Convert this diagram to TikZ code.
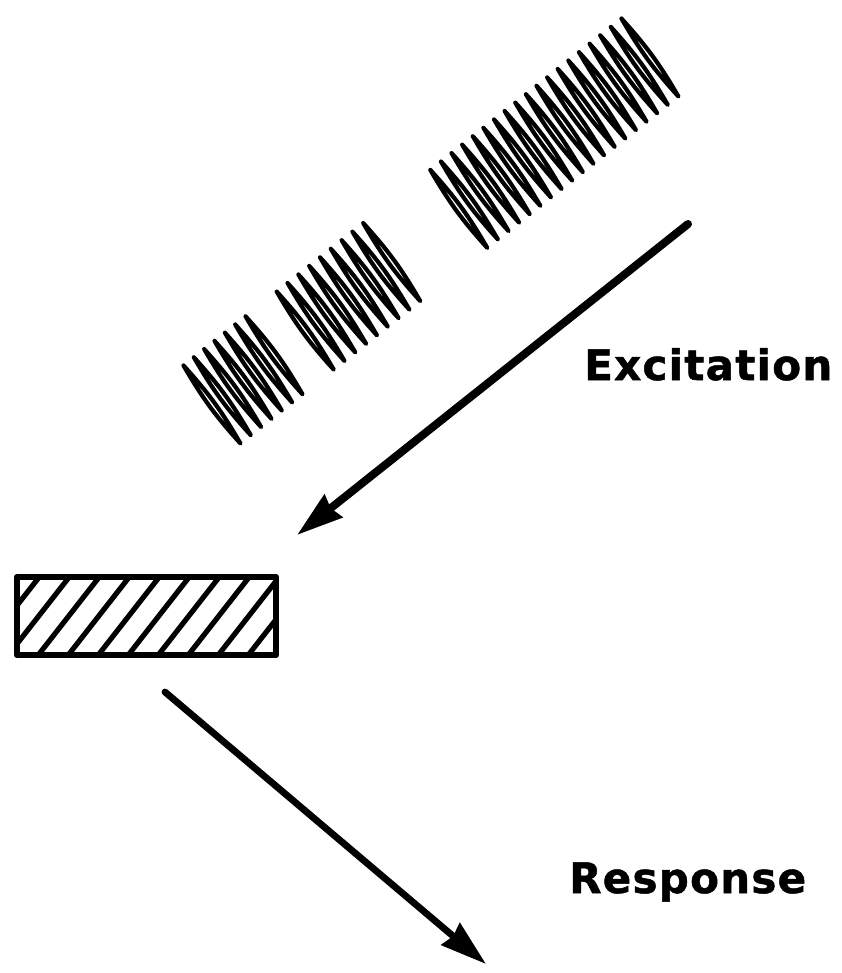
\documentclass[tikz,border=0pt]{standalone}
\usepackage{fontspec}
\setmainfont{DejaVu Sans}[BoldFont={DejaVu Sans Bold}]
\newfontfamily\labelfont{DejaVu Sans Bold}[LetterSpace=3,FakeBold=1.2]
\usetikzlibrary{arrows.meta}

\tikzset{
  wavestroke/.style={line width=4.2pt, line join=round, line cap=round},
  hatchline/.style={line width=5.2pt},
  slab/.style={draw, line width=6.5pt, minimum width=259pt, minimum height=78pt,
               inner sep=0pt, line join=round},
  bigarrow/.style={line cap=round, -{Stealth[length=46pt,width=28pt,inset=3pt]}},
  caption/.style={anchor=base west, inner sep=0pt, font=\labelfont\fontsize{42pt}{44pt}\selectfont}
}

% one train of narrow loops along the common axis of the wave packets
% #1 = start position along the axis, #2 = spacing, #3 = number of loops
\newcommand\wavetrain[3]{%
  \foreach \i in {1,...,#3}{%
    \pgfmathsetmacro\kk{#1+(\i-1)*#2}%
    \pgfmathsetmacro\tx{183.5+0.7836*\kk}%
    \pgfmathsetmacro\ty{365.5-0.6208*\kk}%
    \draw[wavestroke] (\tx,\ty) to[bend left=6] ++(57,78) to[bend left=6] (\tx,\ty);
  }}

\begin{document}
\begin{tikzpicture}[x=1pt,y=-1pt]
  \useasboundingbox (0,0) rectangle (841,973);

  % incoming wave packets
  \wavetrain{0}{13.2}{7}
  \wavetrain{119}{13.8}{9}
  \wavetrain{315}{13.55}{19}

  % hatched slab
  \begin{scope}
    \clip (17,577) rectangle (276,655);
    \foreach \j in {0,...,10} \draw[hatchline] ({44.7+30*\j},570) -- ++(-75,96);
  \end{scope}
  \node[slab] (slab) at (146.5,616) {};

  % excitation arrow
  \coordinate (exctail) at (688,224);
  \coordinate (exctip) at (297,535);
  \draw[bigarrow, line width=8pt] (exctail) -- (exctip);
  \node[caption] (exclabel) at (584,380) {Excitation};

  % response arrow
  \coordinate (restail) at (165,692);
  \coordinate (restip) at (486,964);
  \draw[bigarrow, line width=6.8pt] (restail) -- (restip);
  \node[caption] (reslabel) at (569,893) {Response};
\end{tikzpicture}
\end{document}
